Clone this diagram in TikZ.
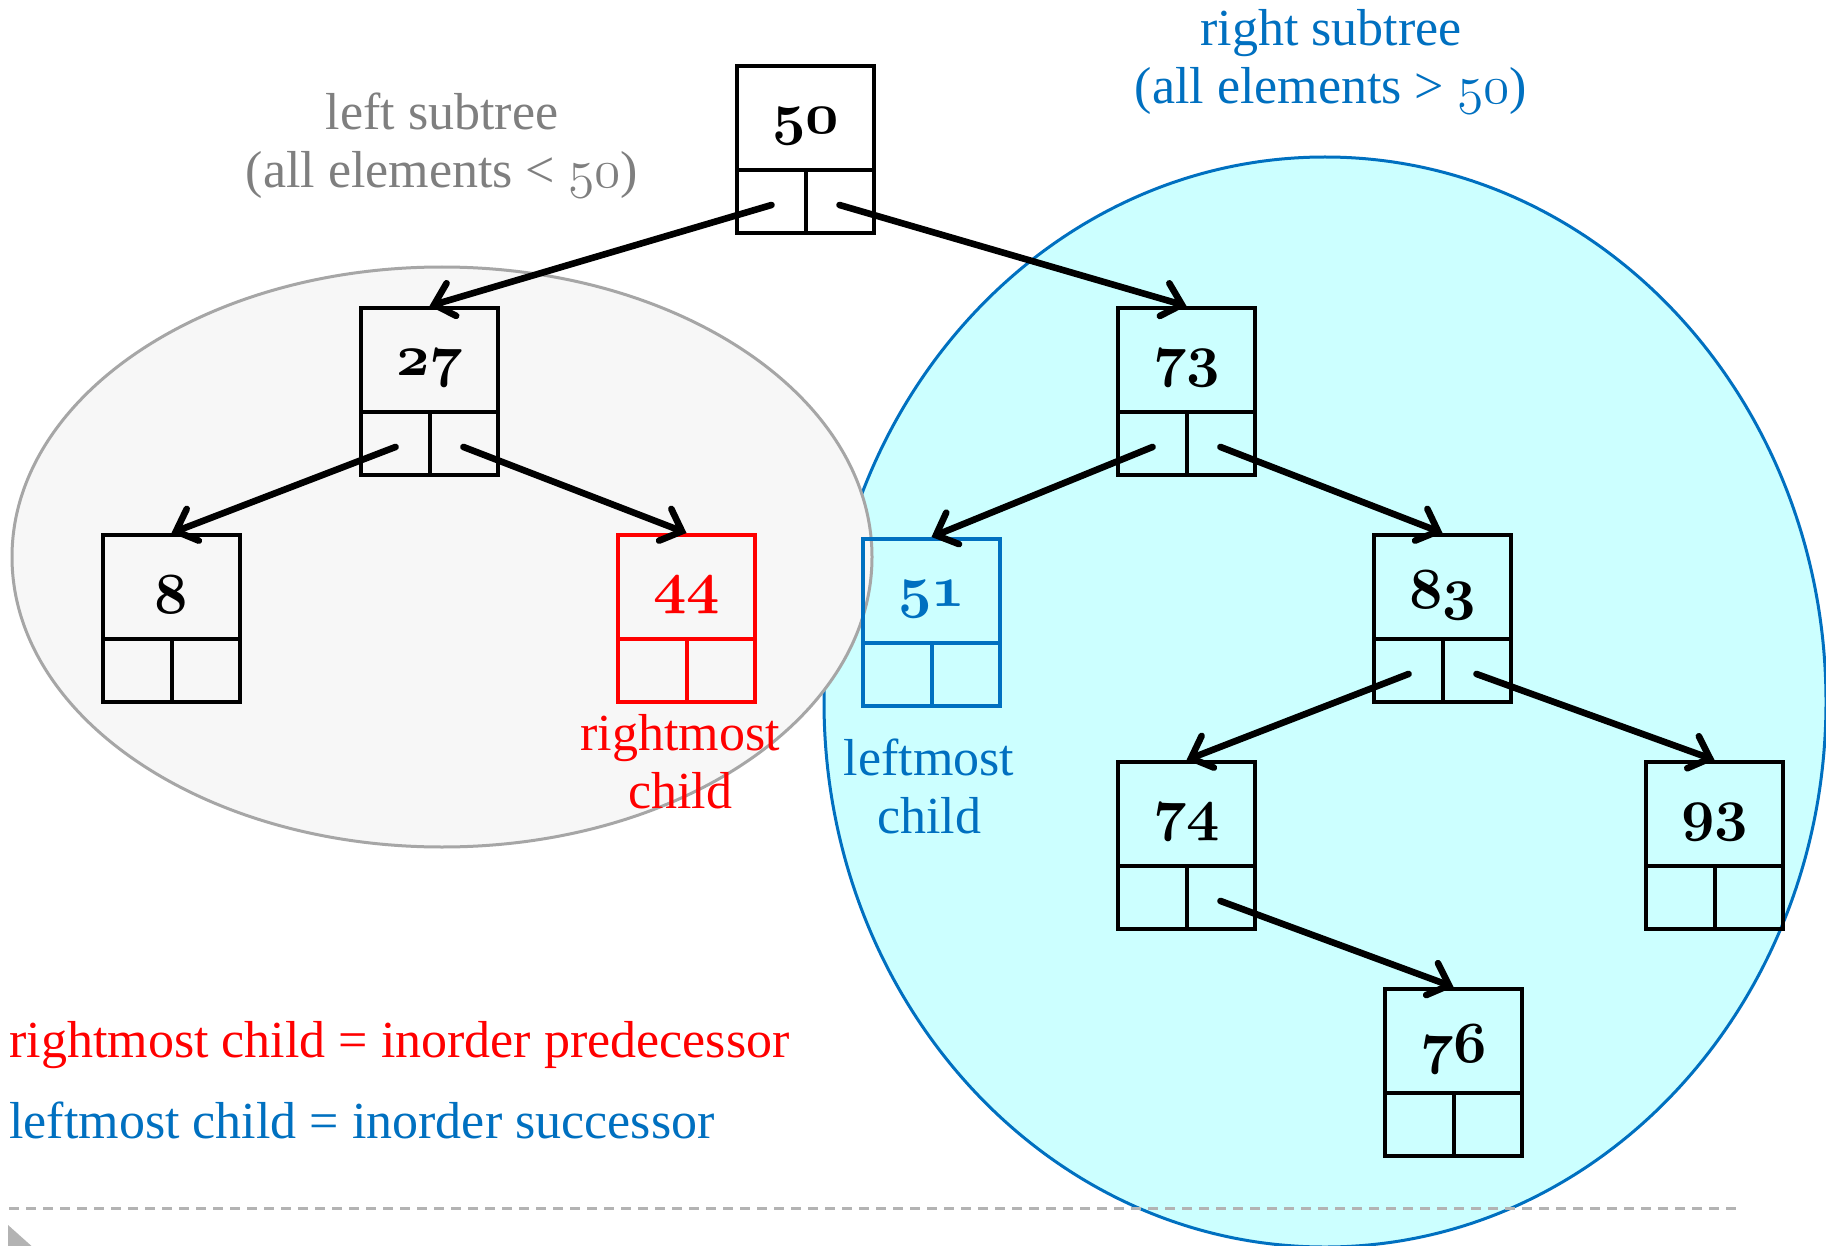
\documentclass[tikz,border=0pt]{standalone}
\usepackage{fontspec}
\setmainfont{Liberation Serif}
\usetikzlibrary{arrows.meta,calc}

\definecolor{treeblue}{HTML}{0070C0}
\definecolor{treered}{HTML}{FF0000}
\definecolor{treegray}{HTML}{7F7F7F}
\definecolor{leftfill}{HTML}{F7F7F7}
\definecolor{leftline}{HTML}{A6A6A6}
\definecolor{rightfill}{HTML}{CCFFFF}
\definecolor{rulegray}{HTML}{B3B3B3}

% old-style figures
\newcommand\osnum[1]{\scalebox{1.08}{\usefont{OML}{cmm}{m}{it}#1}}
\newcommand\osnumbold[1]{\scalebox{1.17}{\usefont{OML}{cmm}{b}{it}#1}}

\newcommand\keyfont{\fontsize{24.88}{27}\selectfont}
\newcommand\labelfont{\fontsize{26}{29}\selectfont}

\tikzset{
  cellbox/.style={draw, line width=2pt, minimum width=68.5pt,
    minimum height=83.5pt, inner sep=0pt, anchor=north west},
  cellline/.style={line width=2pt},
  keytext/.style={font=\keyfont, inner sep=0pt},
  ptr/.style={line width=3.3pt, line cap=round,
    -{Straight Barb[length=9pt,width=17pt,line cap=round]}},
  caption/.style={font=\labelfont, align=center, inner sep=0pt},
}

% a tree node: key field on top, two pointer fields below
% #1 name, #2 x, #3 y (top left corner), #4 key, #5 colour
\newcommand\treenode[5]{%
  \node[cellbox, draw=#5] (#1) at (#2,#3) {};
  \draw[cellline, #5] ($(#1.north west)+(0,106)$) -- ($(#1.north east)+(0,106)$);
  \draw[cellline, #5] ($(#1.north)+(0,106)$) -- (#1.south);
  \node[keytext, text=#5] (#1-key) at ($(#1.north)+(0,62)$) {\osnumbold{#4}};
}
% pointer from the left / right field of #1 to node #2
\newcommand\leftptr[2]{\draw[ptr] ($(#1.south)+(-34,-30)$) -- (#2.north);}
\newcommand\rightptr[2]{\draw[ptr] ($(#1.south)+(34,-30)$) -- (#2.north);}

\begin{document}
\begin{tikzpicture}[x=0.5pt, y=-0.5pt]
  \useasboundingbox (0,0) rectangle (1826,1246);
  \clip (0,0) rectangle (1826,1246);
  \fill[white] (0,0) rectangle (1826,1246);

  % subtree regions
  \filldraw[fill=rightfill, draw=treeblue, line width=1.5pt]
    (1325,702) ellipse [x radius=501, y radius=545];
  \filldraw[fill=leftfill, draw=leftline, line width=1.5pt]
    (442,557) ellipse [x radius=430, y radius=290];

  % nodes
  \treenode{n50}{735}{64}{50}{black}
  \treenode{n27}{359}{306}{27}{black}
  \treenode{n73}{1116}{306}{73}{black}
  \treenode{n8}{101}{533}{8}{black}
  \treenode{n44}{616}{533}{44}{treered}
  \treenode{n51}{861}{537}{51}{treeblue}
  \treenode{n83}{1372}{533}{83}{black}
  \treenode{n74}{1116}{760}{74}{black}
  \treenode{n93}{1644}{760}{93}{black}
  \treenode{n76}{1383}{987}{76}{black}

  % child pointers
  \leftptr{n50}{n27}
  \rightptr{n50}{n73}
  \leftptr{n27}{n8}
  \rightptr{n27}{n44}
  \leftptr{n73}{n51}
  \rightptr{n73}{n83}
  \leftptr{n83}{n74}
  \rightptr{n83}{n93}
  \rightptr{n74}{n76}

  % captions
  \node[caption, text=treegray] (lefthead) at (442,146)
    {left subtree\\(all elements < \osnum{50})};
  \node[caption, text=treeblue] (righthead) at (1331,62)
    {right subtree\\(all elements > \osnum{50})};
  \node[caption, text=treered] (rmlabel) at (680,762) {rightmost\\child};
  \node[caption, text=treeblue] (lmlabel) at (929,786) {leftmost\\child};

  \node[font=\labelfont, text=treered, anchor=base west, inner sep=0pt] (pred)
    at (9,1057) {rightmost child = inorder predecessor};
  \node[font=\labelfont, text=treeblue, anchor=base west, inner sep=0pt] (succ)
    at (9,1138) {leftmost child = inorder successor};

  % footer rule and marker
  \coordinate (ruleL) at (9,1208);
  \coordinate (ruleR) at (1737,1208);
  \draw[rulegray, line width=1.5pt, dash pattern=on 5pt off 3.5pt] (ruleL) -- (ruleR);
  \fill[rulegray] (8,1225) -- (36,1250) -- (8,1275) -- cycle;
\end{tikzpicture}
\end{document}
